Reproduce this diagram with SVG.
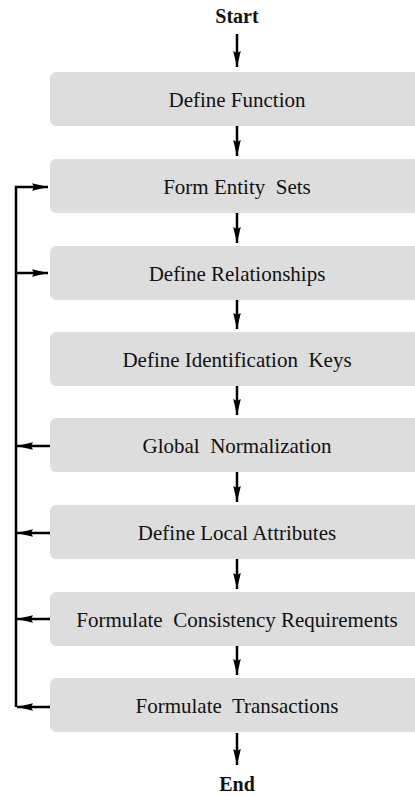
<svg xmlns="http://www.w3.org/2000/svg" width="415" height="796" viewBox="0 0 415 796">
<style>
.box{fill:#dddddd;}
.t{font-family:'Liberation Serif','Times New Roman',serif;font-size:21px;fill:#111;text-anchor:middle;white-space:pre;}
.b{font-family:'Liberation Serif','Times New Roman',serif;font-size:20px;font-weight:bold;fill:#111;text-anchor:middle;}
.c{stroke:#000;stroke-width:2.5;fill:none;}
</style>
<defs>
<marker id="ah" markerUnits="userSpaceOnUse" markerWidth="18" markerHeight="10" refX="16" refY="5" orient="auto">
<path d="M0,1.2 L16,5 L0,8.8 L2,5 Z" fill="#000"/>
</marker>
</defs>
<text class="b" x="237" y="23">Start</text>
<text class="b" x="237" y="791">End</text>
<g id="n1"><rect class="box" x="50" y="72" width="380" height="54" rx="6"/><text class="t" x="237" y="107">Define Function</text></g>
<g id="n2"><rect class="box" x="50" y="159" width="380" height="54" rx="6"/><text class="t" x="237" y="194">Form Entity  Sets</text></g>
<g id="n3"><rect class="box" x="50" y="246" width="380" height="54" rx="6"/><text class="t" x="237" y="281">Define Relationships</text></g>
<g id="n4"><rect class="box" x="50" y="332" width="380" height="54" rx="6"/><text class="t" x="237" y="367">Define Identification  Keys</text></g>
<g id="n5"><rect class="box" x="50" y="418" width="380" height="54" rx="6"/><text class="t" x="237" y="453">Global  Normalization</text></g>
<g id="n6"><rect class="box" x="50" y="505" width="380" height="54" rx="6"/><text class="t" x="237" y="540">Define Local Attributes</text></g>
<g id="n7"><rect class="box" x="50" y="592" width="380" height="54" rx="6"/><text class="t" x="237" y="627">Formulate  Consistency Requirements</text></g>
<g id="n8"><rect class="box" x="50" y="678" width="380" height="54" rx="6"/><text class="t" x="237" y="713">Formulate  Transactions</text></g>
<g id="connectors">
<line class="c" x1="237" y1="34" x2="237" y2="67" marker-end="url(#ah)"/>
<line class="c" x1="237" y1="126" x2="237" y2="156" marker-end="url(#ah)"/>
<line class="c" x1="237" y1="213" x2="237" y2="243" marker-end="url(#ah)"/>
<line class="c" x1="237" y1="300" x2="237" y2="329" marker-end="url(#ah)"/>
<line class="c" x1="237" y1="386" x2="237" y2="415" marker-end="url(#ah)"/>
<line class="c" x1="237" y1="472" x2="237" y2="502" marker-end="url(#ah)"/>
<line class="c" x1="237" y1="559" x2="237" y2="589" marker-end="url(#ah)"/>
<line class="c" x1="237" y1="646" x2="237" y2="675" marker-end="url(#ah)"/>
<line class="c" x1="237" y1="733" x2="237" y2="765" marker-end="url(#ah)"/>
<polyline class="c" points="16,707 16,187 48,187" marker-end="url(#ah)"/>
<line class="c" x1="16" y1="273" x2="48" y2="273" marker-end="url(#ah)"/>
<line class="c" x1="50" y1="446" x2="17" y2="446" marker-end="url(#ah)"/>
<line class="c" x1="50" y1="533" x2="17" y2="533" marker-end="url(#ah)"/>
<line class="c" x1="50" y1="619" x2="17" y2="619" marker-end="url(#ah)"/>
<line class="c" x1="50" y1="707" x2="17" y2="707" marker-end="url(#ah)"/>
</g>
</svg>
